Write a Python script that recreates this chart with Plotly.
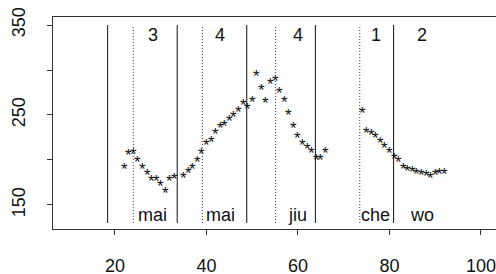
import plotly.graph_objects as go

# pitch contour samples (frame index, F0 in Hz)
seg1_x = [22, 23, 24, 25, 26, 27, 28, 29, 30, 31, 32, 33]
seg1_y = [193.7, 209.2, 210, 201.1, 193.7, 187, 180.3, 180.3, 174.8, 166.7, 180.3, 183.3]
seg2_x = [35, 36, 37, 38, 39, 40, 41, 42, 43, 44, 45, 46, 47, 48, 49, 50, 51, 52, 53, 54,
          55, 56, 57, 58, 59, 60, 61, 62, 63, 64, 65, 66]
seg2_y = [184.1, 188.9, 194.4, 201.9, 210, 220.3, 224.1, 232.6, 238.9, 242.2, 247, 251.9,
          257, 264.8, 261.1, 267.8, 297, 281.4, 266.7, 288.1, 291.9, 278.6, 267.8, 253.7,
          239.7, 228.6, 220.3, 215.6, 212.2, 204.4, 204.4, 211.1]
seg3_x = [74, 75, 76, 77, 78, 79, 80, 81, 82, 83, 84, 85, 86, 87, 88, 89, 90, 91, 92]
seg3_y = [255.6, 234.4, 232.2, 227.8, 223, 217.4, 211.9, 204.8, 201.9, 194.4, 192.2, 190.8,
          188.6, 187, 185.9, 184.1, 187, 187.8, 188.1]

# segment boundaries
solid_bounds = [18.4, 33.6, 48.8, 63.8, 80.9]
dotted_bounds = [24.0, 39.1, 55.1, 73.5]
bound_lo, bound_hi = 130, 350

# labels
label_x = [28.3, 43.0, 60.0, 77.0, 87.0]
tones = ["3", "4", "4", "1", "2"]
syllables = ["mai", "mai", "jiu", "che", "wo"]
tone_y = 339
syl_y = 139

x_ticks = [20, 40, 60, 80, 100]
x_ticktext = ["20", "40", "60", "80", "100"]
y_ticks = [150, 200, 250, 300, 350]
y_ticktext = ["150", "", "250", "", "350"]

FONT = "Liberation Sans, Arial, Helvetica, sans-serif"

px_ = seg1_x + seg2_x + seg3_x
py_ = seg1_y + seg2_y + seg3_y

fig = go.Figure()
# invisible carrier trace so the axes know the data
fig.add_trace(go.Scatter(
    x=px_, y=py_, mode="markers", marker=dict(size=6, opacity=0),
    hoverinfo="x+y", showlegend=False))

shapes = []
for b in solid_bounds:
    shapes.append(dict(type="line", xref="x", yref="y", x0=b, x1=b, y0=bound_lo, y1=bound_hi,
                       line=dict(color="#111", width=1)))
for b in dotted_bounds:
    shapes.append(dict(type="line", xref="x", yref="y", x0=b, x1=b, y0=bound_lo, y1=bound_hi,
                       line=dict(color="#333", width=1, dash="1px,2px")))

annotations = []
# asterisk point symbols (R pch="*"), glyph centred on each data point
for xv, yv in zip(px_, py_):
    annotations.append(dict(x=xv, y=yv, xref="x", yref="y", text="*", showarrow=False,
                            font=dict(family=FONT, size=17, color="#111"),
                            xanchor="center", yanchor="middle", yshift=-4))
for xv, t in zip(label_x, tones):
    annotations.append(dict(x=xv, y=tone_y, xref="x", yref="y", text=t, showarrow=False,
                            font=dict(family=FONT, size=18, color="#111"),
                            xanchor="center", yanchor="middle"))
for xv, s in zip(label_x, syllables):
    annotations.append(dict(x=xv, y=syl_y, xref="x", yref="y", text=s, showarrow=False,
                            font=dict(family=FONT, size=18, color="#111"),
                            xanchor="center", yanchor="middle"))

fig.update_layout(
    width=496, height=274,
    margin=dict(l=53, r=0, t=17, b=45, autoexpand=False),
    paper_bgcolor="white", plot_bgcolor="white",
    shapes=shapes, annotations=annotations,
    xaxis=dict(range=[6.45, 103.28], tickvals=x_ticks, ticktext=x_ticktext,
               showgrid=False, zeroline=False, showline=True, mirror=True,
               linecolor="#333", linewidth=1, ticks="outside", ticklen=5,
               tickcolor="#333", ticklabelstandoff=15, automargin=False,
               ticklabeloverflow="allow",
               tickfont=dict(family=FONT, size=18, color="#111")),
    yaxis=dict(range=[123.3, 358.9], tickvals=y_ticks, ticktext=y_ticktext,
               showgrid=False, zeroline=False, showline=True, mirror=False,
               linecolor="#333", linewidth=1, ticks="outside", ticklen=5,
               tickcolor="#333", tickangle=-90, ticklabelstandoff=15, automargin=False,
               ticklabeloverflow="allow",
               tickfont=dict(family=FONT, size=18, color="#111")),
)

fig.write_html("out.html", config={"displayModeBar": False},
               post_script="document.body.style.margin='0';document.body.style.padding='0';"
                           "document.body.style.overflow='hidden';")
